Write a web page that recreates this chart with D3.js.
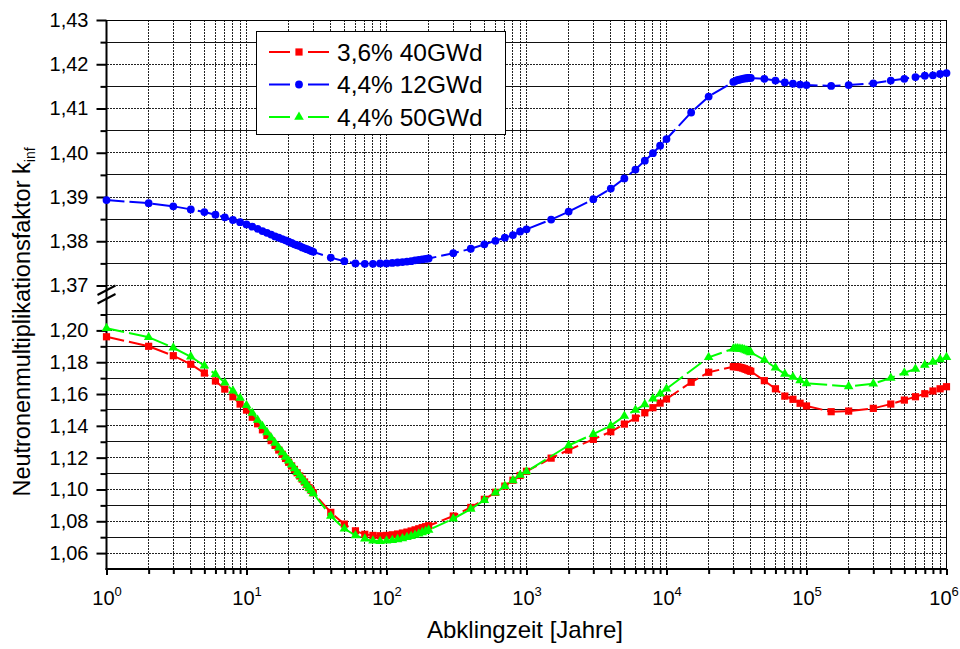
<!DOCTYPE html>
<html>
<head>
<meta charset="utf-8">
<script src="https://cdn.jsdelivr.net/npm/d3@7"></script>
<style>
  html, body { margin: 0; padding: 0; background: #fff; }
  svg { display: block; font-family: "Liberation Sans", Arial, sans-serif; }
</style>
</head>
<body>
<svg id="chart" width="960" height="649"></svg>
<script>
// ---------------- DATA ----------------
const years = [1,2,3,4,5,6,7,8,9,10,
  11,12,13,14,15,16,17,18,19,20,21,22,23,24,25,26,27,28,29,30,
  40,50,60,70,80,90,100,
  110,120,130,140,150,160,170,180,190,200,
  300,400,500,600,700,800,900,1000,
  1500,
  2000,3000,4000,5000,6000,7000,8000,9000,10000,
  15000,
  20000,
  30000,31000,32000,33000,34000,35000,36000,37000,38000,39000,40000,
  50000,60000,70000,80000,90000,100000,
  150000,
  200000,300000,400000,500000,600000,700000,800000,900000,1000000];

const k36_40 = [1.1960,1.1900,1.1841,1.1787,1.1732,1.1682,1.1631,1.1583,1.1537,1.1499,
  1.1454,1.1413,1.1375,1.1340,1.1307,1.1277,1.1248,1.1221,1.1195,1.1171,1.1148,1.1126,1.1105,1.1085,1.1065,1.1047,1.1029,1.1011,1.0995,1.0979,
  1.0856,1.0782,1.0740,1.0718,1.0711,1.0709,1.0711,
  1.0715,1.0720,1.0726,1.0732,1.0739,1.0746,1.0753,1.0760,1.0766,1.0772,
  1.0833,1.0887,1.0938,1.0982,1.1021,1.1058,1.1088,1.1114,
  1.1197,
  1.1248,1.1315,1.1363,1.1411,1.1449,1.1482,1.1514,1.1543,1.1569,
  1.1674,
  1.1737,
  1.1772,1.1772,1.1771,1.1769,1.1766,1.1763,1.1759,1.1755,1.1751,1.1747,1.1743,
  1.1684,1.1633,1.1587,1.1567,1.1542,1.1525,
  1.1489,
  1.1493,1.1510,1.1537,1.1562,1.1583,1.1602,1.1619,1.1633,1.1646];

const k44_12 = [1.3893,1.3886,1.3879,1.3872,1.3866,1.3860,1.3854,1.3848,1.3843,1.3838,
  1.3833,1.3828,1.3823,1.3819,1.3815,1.3811,1.3808,1.3805,1.3802,1.3799,1.3796,1.3793,1.3791,1.3789,1.3786,1.3784,1.3782,1.3780,1.3778,1.3776,
  1.3763,1.3755,1.3750,1.3749,1.3749,1.3750,1.3750,
  1.3751,1.3752,1.3753,1.3754,1.3755,1.3757,1.3758,1.3759,1.3760,1.3761,
  1.3773,1.3783,1.3793,1.3801,1.3808,1.3814,1.3822,1.3827,
  1.3849,
  1.3867,1.3895,1.3919,1.3942,1.3962,1.3982,1.3999,1.4016,1.4031,
  1.4091,
  1.4127,
  1.4160,1.4162,1.4164,1.4165,1.4166,1.4167,1.4168,1.4168,1.4169,1.4169,1.4169,
  1.4167,1.4163,1.4159,1.4156,1.4154,1.4153,
  1.4151,
  1.4153,1.4157,1.4163,1.4167,1.4171,1.4174,1.4175,1.4178,1.4180];

const yearsG = [1,2,3,4,5,6,7,8,9,10,
  11,12,13,14,15,16,17,18,19,20,21,22,23,24,25,26,27,28,29,30,
  40,50,60,70,80,90,100,
  110,120,130,140,150,160,170,180,190,200,
  300,400,500,600,700,800,900,1000,
  2000,3000,4000,5000,6000,7000,8000,9000,10000,
  20000,
  30000,31000,32000,33000,34000,35000,36000,37000,38000,39000,40000,
  50000,60000,70000,80000,90000,100000,
  200000,300000,400000,500000,600000,700000,800000,900000,1000000];

const k44_50 = [1.2013,1.1957,1.1891,1.1835,1.1778,1.1724,1.1671,1.1621,1.1575,1.1529,
  1.1481,1.1437,1.1397,1.1359,1.1325,1.1292,1.1262,1.1233,1.1205,1.1180,1.1155,1.1132,1.1109,1.1088,1.1067,1.1048,1.1029,1.1010,1.0993,1.0975,
  1.0833,1.0753,1.0711,1.0690,1.0677,1.0674,1.0677,
  1.0681,1.0686,1.0692,1.0699,1.0706,1.0714,1.0722,1.0730,1.0737,1.0745,
  1.0816,1.0877,1.0933,1.0979,1.1021,1.1057,1.1091,1.1113,
  1.1277,1.1348,1.1401,1.1462,1.1499,1.1535,1.1571,1.1602,1.1633,
  1.1831,
  1.1885,1.1886,1.1886,1.1885,1.1883,1.1881,1.1878,1.1874,1.1870,1.1866,1.1862,
  1.1814,1.1765,1.1726,1.1707,1.1686,1.1667,
  1.1648,1.1665,1.1701,1.1734,1.1757,1.1782,1.1801,1.1818,1.1831];

const seriesNames = ["3,6% 40GWd", "4,4% 12GWd", "4,4% 50GWd"];
const upperMajor = [1.37,1.38,1.39,1.40,1.41,1.42,1.43];
const upperMinor = [1.375,1.385,1.395,1.405,1.415,1.425];
const lowerMajor = [1.06,1.08,1.10,1.12,1.14,1.16,1.18,1.20];
const lowerMinor = [1.07,1.09,1.11,1.13,1.15,1.17,1.19,1.21];
const xDecades = [1,10,100,1000,10000,100000,1000000];
const xTitle = "Abklingzeit [Jahre]";
const yTitle = "Neutronenmultiplikationsfaktor k";
const ySub = "inf";

// ---------------- LAYOUT ----------------
const svg = d3.select("#chart");
const L = 106.5, R = 946.5, T = 20, B = 569;
const x = d3.scaleLog().domain([1, 1e6]).range([L, R]);
const yUp = d3.scaleLinear().domain([1.37, 1.43]).range([285.5, 20]);
const yLo = d3.scaleLinear().domain([1.05, 1.21]).range([569, 314.5]);
const fmt = d => d3.format(".2f")(d).replace(".", ",");

const grid = svg.append("g").attr("shape-rendering", "crispEdges");
const xt = x.ticks();
grid.selectAll("line.v").data(xt).join("line")
  .attr("x1", d => x(d)).attr("x2", d => x(d))
  .attr("y1", T).attr("y2", B)
  .attr("stroke", "#222")
  .attr("stroke-width", d => xDecades.includes(d) ? 1.6 : 1)
  .attr("stroke-dasharray", "2,1");
const hMaj = upperMajor.map(v => yUp(v)).concat(lowerMajor.map(v => yLo(v)));
grid.selectAll("line.hm").data(hMaj).join("line")
  .attr("x1", L).attr("x2", R).attr("y1", d => d).attr("y2", d => d)
  .attr("stroke", "#222").attr("stroke-width", 1).attr("stroke-dasharray", "2,1");
const hMin = upperMinor.map(v => yUp(v)).concat(lowerMinor.map(v => yLo(v)));
grid.selectAll("line.hn").data(hMin).join("line")
  .attr("x1", L).attr("x2", R).attr("y1", d => d).attr("y2", d => d)
  .attr("stroke", "#111").attr("stroke-width", 1);

svg.append("line").attr("x1", L).attr("x2", R).attr("y1", T).attr("y2", T)
  .attr("stroke", "#000").attr("stroke-width", 1).attr("shape-rendering","crispEdges");
svg.append("line").attr("x1", R).attr("x2", R).attr("y1", T).attr("y2", B)
  .attr("stroke", "#000").attr("stroke-width", 1).attr("shape-rendering","crispEdges");

// ---------------- AXES ----------------
function styleAxis(g) {
  g.select(".domain").remove();
  g.selectAll(".tick line").attr("stroke", "#000").attr("stroke-width", 2);
  g.selectAll("text").attr("font-size", 20).attr("fill", "#000")
    .attr("font-family", "Liberation Sans, Arial, sans-serif");
}
svg.append("g").attr("transform", `translate(${L},0)`)
  .call(d3.axisLeft(yUp).tickValues(upperMajor).tickSize(10).tickPadding(8).tickFormat(fmt)).call(styleAxis);
svg.append("g").attr("transform", `translate(${L},0)`)
  .call(d3.axisLeft(yUp).tickValues(upperMinor).tickSize(6).tickFormat("")).call(styleAxis);
svg.append("g").attr("transform", `translate(${L},0)`)
  .call(d3.axisLeft(yLo).tickValues(lowerMajor).tickSize(10).tickPadding(8).tickFormat(fmt)).call(styleAxis);
svg.append("g").attr("transform", `translate(${L},0)`)
  .call(d3.axisLeft(yLo).tickValues(lowerMinor).tickSize(6).tickFormat("")).call(styleAxis);

const xMinor = xt.filter(d => !xDecades.includes(d));
svg.append("g").attr("transform", `translate(0,${B})`)
  .call(d3.axisBottom(x).tickValues(xMinor).tickSize(5).tickFormat("")).call(styleAxis);
const gx = svg.append("g").attr("transform", `translate(0,${B})`)
  .call(d3.axisBottom(x).tickValues(xDecades).tickSize(6).tickFormat("")).call(styleAxis);
gx.selectAll(".tick").append("text")
  .attr("x", d => d === 1000000 ? -3 : 0)
  .attr("y", 36).attr("text-anchor", "middle").attr("fill", "#000")
  .attr("font-size", 20)
  .each(function(d) {
    const t = d3.select(this);
    t.append("tspan").text("10");
    t.append("tspan").attr("font-size", 13).attr("dy", -9).text(String(Math.round(Math.log10(d))));
  });

svg.append("line").attr("x1", L).attr("x2", L).attr("y1", T).attr("y2", B + 1)
  .attr("stroke", "#000").attr("stroke-width", 2);
svg.append("line").attr("x1", L - 1).attr("x2", R + 0.5).attr("y1", B).attr("y2", B)
  .attr("stroke", "#000").attr("stroke-width", 2);

[0, 8.5].forEach(o => {
  svg.append("line").attr("x1", L - 9).attr("y1", 295 + o).attr("x2", L + 9).attr("y2", 285.5 + o)
    .attr("stroke", "#000").attr("stroke-width", 2);
});

// ---------------- SERIES ----------------
const colors = ["#ff0000", "#0000ff", "#00ff00"];
const dash = "18,5";
const series = [
  {xs: years, ys: k36_40, y: yLo, c: colors[0], sym: "square"},
  {xs: years, ys: k44_12, y: yUp, c: colors[1], sym: "circle"},
  {xs: yearsG, ys: k44_50, y: yLo, c: colors[2], sym: "triangle"}
];
function drawMarker(g, sym, c, cx, cy) {
  if (sym === "square") {
    g.append("rect").attr("x", cx - 3.6).attr("y", cy - 3.6).attr("width", 7.2).attr("height", 7.2).attr("fill", c);
  } else if (sym === "circle") {
    g.append("circle").attr("cx", cx).attr("cy", cy).attr("r", 3.9).attr("fill", c);
  } else {
    g.append("path").attr("d", d3.symbol(d3.symbolTriangle, 40)()).attr("transform", `translate(${cx},${cy})`).attr("fill", c);
  }
}
series.forEach(s => {
  const pts = s.xs.map((t, i) => [t, s.ys[i]]);
  const line = d3.line().x(d => x(d[0])).y(d => s.y(d[1]));
  const g = svg.append("g");
  g.append("path").attr("d", line(pts)).attr("fill", "none").attr("stroke", s.c)
    .attr("stroke-width", 2).attr("stroke-dasharray", dash);
  pts.forEach(p => drawMarker(g, s.sym, s.c, x(p[0]), s.y(p[1])));
});

// ---------------- LEGEND ----------------
const lg = svg.append("g");
lg.append("rect").attr("x", 256.5).attr("y", 31.5).attr("width", 248.5).attr("height", 102.5)
  .attr("fill", "#fff").attr("stroke", "#000").attr("stroke-width", 1).attr("shape-rendering","crispEdges");
const rowsY = [52, 84.5, 117];
series.forEach((s, i) => {
  const yy = rowsY[i];
  lg.append("line").attr("x1", 269).attr("x2", 329).attr("y1", yy).attr("y2", yy)
    .attr("stroke", s.c).attr("stroke-width", 2).attr("stroke-dasharray", "21,18");
  drawMarker(lg, s.sym, s.c, 299, yy);
  lg.append("text").attr("x", 337).attr("y", yy).attr("dy", "0.36em")
    .attr("font-size", 24.5).attr("fill", "#000").text(seriesNames[i]);
});

// ---------------- TITLES ----------------
svg.append("text").attr("x", 525).attr("y", 638).attr("text-anchor", "middle")
  .attr("font-size", 24).attr("fill", "#000").text(xTitle);
const yt = svg.append("text").attr("transform", "translate(30,322) rotate(-90)")
  .attr("text-anchor", "middle").attr("font-size", 23.5).attr("fill", "#000");
yt.append("tspan").text(yTitle);
yt.append("tspan").attr("font-size", 14).attr("dy", 5).text(ySub);
</script>
</body>
</html>
